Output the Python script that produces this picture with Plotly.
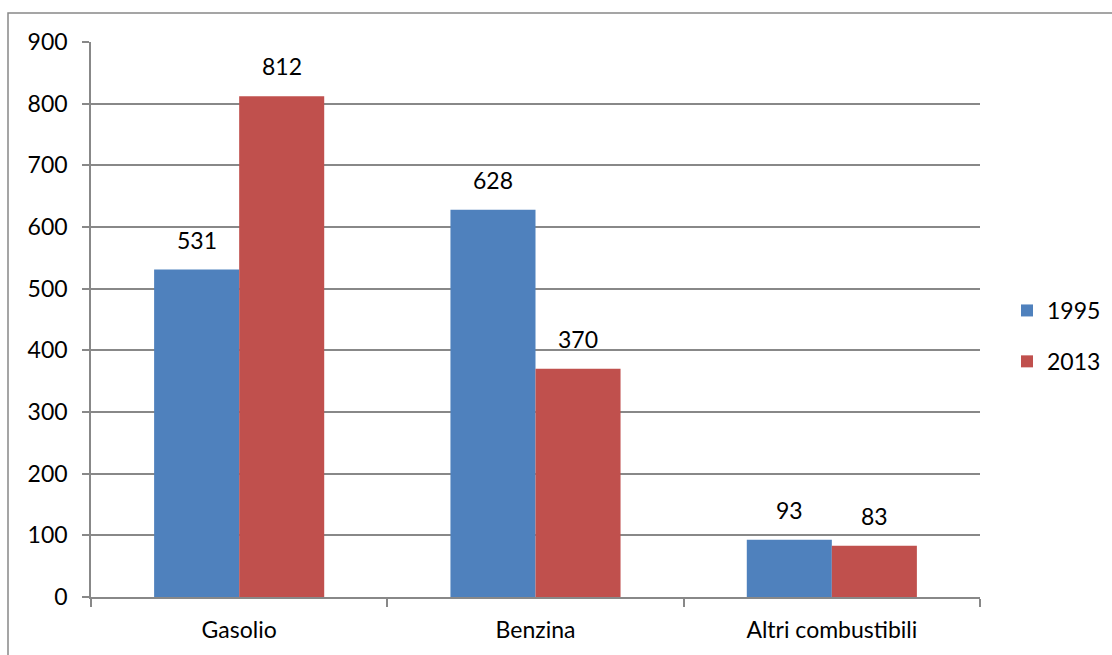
import plotly.graph_objects as go

categories = ["Gasolio", "Benzina", "Altri combustibili"]
values_1995 = [531, 628, 93]
values_2013 = [812, 370, 83]
series_names = ["1995", "2013"]
colors = ["#4F81BD", "#C0504D"]
y_ticks = [0, 100, 200, 300, 400, 500, 600, 700, 800, 900]

W, H = 1112, 655
L, R, T, B = 91, 132, 42, 58
plot_w = W - L - R
plot_h = H - T - B
FS = 23

fig = go.Figure()
for name, vals, col in zip(series_names, [values_1995, values_2013], colors):
    fig.add_trace(go.Bar(
        x=categories, y=vals, name=name, legendgroup=name,
        marker=dict(color=col, line=dict(width=0)),
    ))

bar_px = plot_w / 3 * (1 - 0.426) / 2
annotations = []
for i, vals in enumerate([values_1995, values_2013]):
    shift = (-0.5 if i == 0 else 0.5) * bar_px
    for c, v in zip(categories, vals):
        annotations.append(dict(
            x=c, y=v, xref="x", yref="y", text=str(v), showarrow=False,
            xanchor="center", yanchor="bottom", xshift=shift, yshift=14,
            font=dict(size=FS, color="#000000"),
        ))

fig.update_layout(
    width=W, height=H,
    margin=dict(l=L, r=R, t=T, b=B, autoexpand=False),
    paper_bgcolor="white", plot_bgcolor="white",
    font=dict(family="Lato, 'Open Sans', sans-serif", size=FS, color="#000000"),
    barmode="group", bargap=0.426, bargroupgap=0,
    showlegend=True,
    legend=dict(
        x=1.0 + (1007 - (L + plot_w)) / plot_w, xanchor="left",
        y=(H - B - 336) / plot_h, yanchor="middle",
        font=dict(size=FS), itemsizing="constant", itemwidth=30,
        tracegroupgap=18, bgcolor="rgba(0,0,0,0)",
    ),
    annotations=annotations,
    shapes=[dict(
        type="rect", xref="paper", yref="paper",
        x0=(8 - L) / plot_w, x1=1.3,
        y0=-0.3, y1=(H - B - 13) / plot_h,
        line=dict(color="#888888", width=1.5), fillcolor="rgba(0,0,0,0)",
        layer="below",
    )],
)

fig.update_xaxes(
    type="category", showgrid=False,
    showline=True, linecolor="#888888", linewidth=1.5,
    ticks="outside", tickson="boundaries", ticklen=8,
    tickcolor="#888888", tickwidth=1.5,
    tickfont=dict(size=FS), ticklabelstandoff=12,
)
fig.update_yaxes(
    range=[0, 900], tickvals=y_ticks,
    showgrid=True, gridcolor="#888888", gridwidth=1.5,
    showline=True, linecolor="#888888", linewidth=1.5,
    ticks="outside", ticklen=7, tickcolor="#888888", tickwidth=1.5,
    tickfont=dict(size=FS), ticklabelstandoff=10, zeroline=False,
)

fig.write_html("out.html")
